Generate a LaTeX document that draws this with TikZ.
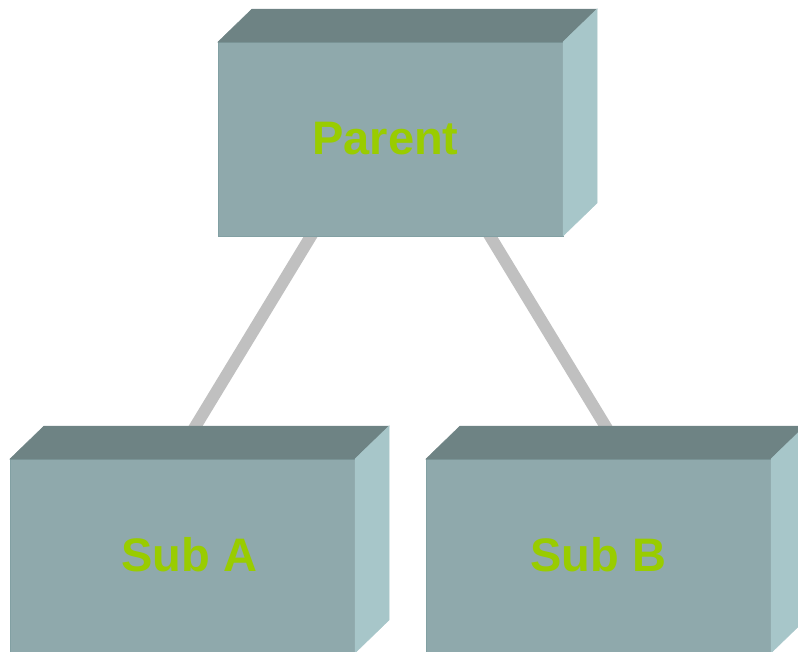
\documentclass[tikz,border=0pt]{standalone}
\usepackage{fontspec}
\setmainfont{Liberation Sans}
\usetikzlibrary{calc}
\pgfdeclarelayer{background}
\pgfsetlayers{background,main}

\definecolor{boxfront}{HTML}{8FA9AC}
\definecolor{boxtop}{HTML}{6E8384}
\definecolor{boxside}{HTML}{A7C6C9}
\definecolor{boxedge}{HTML}{82A0A3}
\definecolor{linkgray}{HTML}{C0C0C0}
\definecolor{labelgreen}{HTML}{99CC00}

\tikzset{
  x=1pt, y=-1pt,
  frontface/.style={rectangle, fill=boxfront, draw=boxedge, line width=1pt,
    minimum width=345pt, minimum height=194pt, inner sep=0pt, outer sep=0pt},
  topface/.style={fill=boxtop, draw=boxtop, line width=0.5pt},
  sideface/.style={fill=boxside, draw=boxside, line width=0.5pt},
  boxlabel/.style={text=labelgreen, font=\bfseries\fontsize{47}{50}\selectfont, inner sep=0pt},
  link/.style={draw=linkgray, line width=12pt}
}

% draws the top and right faces of a box behind its front face node
\newcommand{\boxdepth}[1]{%
  \fill[topface] (#1.north west) -- ++(34,-33) -- ($(#1.north east)+(34,-33)$) -- (#1.north east) -- cycle;
  \fill[sideface] (#1.north east) -- ++(34,-33) -- ($(#1.south east)+(34,-33)$) -- (#1.south east) -- cycle;
}

\begin{document}
\begin{tikzpicture}
\useasboundingbox (0,0) rectangle (798,651);

% front faces
\node[frontface, anchor=north west] (parent) at (218,42) {};
\node[frontface, anchor=north west] (suba) at (10,459) {};
\node[frontface, anchor=north west] (subb) at (426,459) {};

\boxdepth{parent}
\boxdepth{suba}
\boxdepth{subb}

% labels
\node[boxlabel] (parentlabel) at ($(parent.center)+(-5,0)$) {Parent};
\node[boxlabel] (subalabel) at ($(suba.center)+(7,-1)$) {Sub A};
\node[boxlabel] (subblabel) at ($(subb.center)+(0,-1)$) {Sub B};

% connectors, running behind the boxes
\coordinate (pl) at ($(parent.south)+(-79.5,0)$);
\coordinate (pr) at ($(parent.south)+(99.5,0)$);
\coordinate (al) at ($(suba.north)+(12.5,-32)$);
\coordinate (br) at ($(subb.north)+(7.5,-32)$);
\begin{pgfonlayer}{background}
  \draw[link] ($(al)!-0.1!(pl)$) -- ($(pl)!-0.1!(al)$);
  \draw[link] ($(br)!-0.1!(pr)$) -- ($(pr)!-0.1!(br)$);
\end{pgfonlayer}
\end{tikzpicture}
\end{document}
